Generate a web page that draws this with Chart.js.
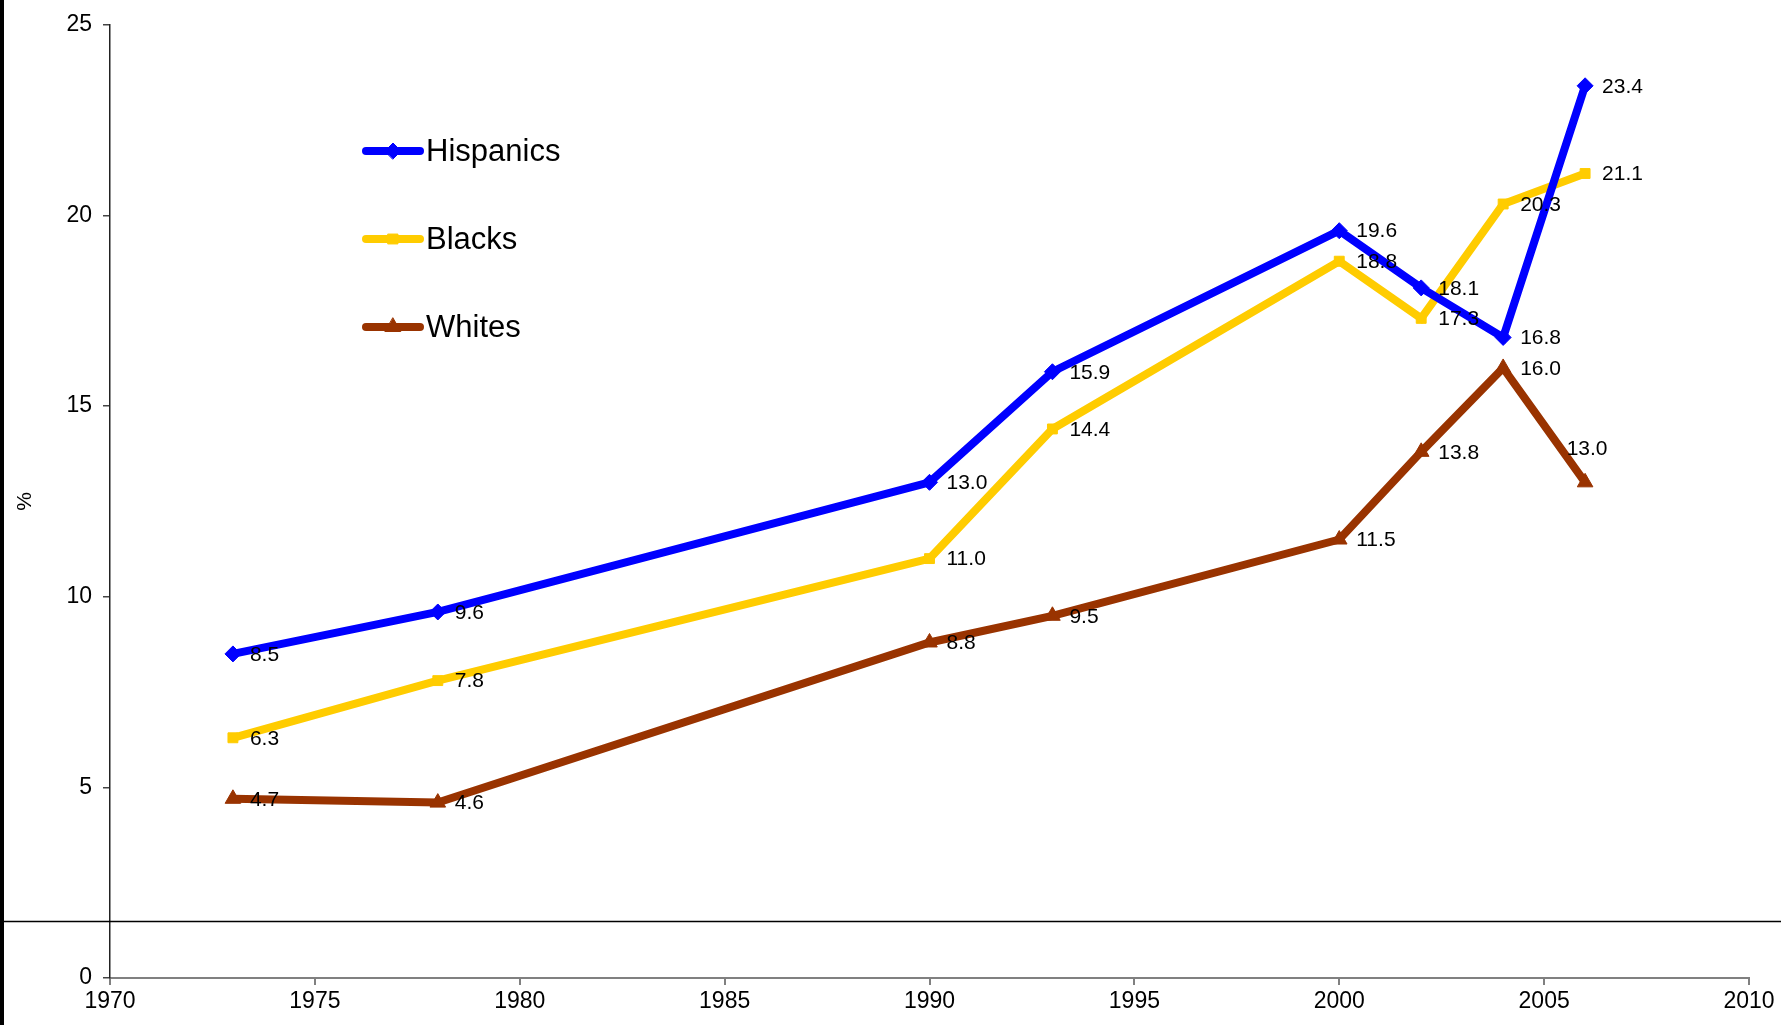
<!DOCTYPE html>
<html>
<head>
<meta charset="utf-8">
<script src="https://cdn.jsdelivr.net/npm/chart.js@4.4.1/dist/chart.umd.min.js"></script>
<style>
  html, body { margin: 0; padding: 0; background: #fff; }
  #wrap { position: relative; width: 1781px; height: 1025px; }
  canvas { display: block; }
</style>
</head>
<body>
<div id="wrap"><canvas id="c" width="1781" height="1025"></canvas></div>
<script>
// Survey years and percentages per group
const years     = [1973, 1978, 1990, 1993, 2000, 2002, 2004, 2006];
const hispanics = [8.5, 9.6, 13.0, 15.9, 19.6, 18.1, 16.8, 23.4];
const blacks    = [6.3, 7.8, 11.0, 14.4, 18.8, 17.3, 20.3, 21.1];
const whites    = [4.7, 4.6, 8.8, 9.5, 11.5, 13.8, 16.0, 13.0];
const yTicks    = [0, 5, 10, 15, 20, 25];
const xTicks    = [1970, 1975, 1980, 1985, 1990, 1995, 2000, 2005, 2010];

const pts = arr => years.map((y, i) => ({ x: y, y: arr[i] }));

const FONT = '"Liberation Sans", Arial, sans-serif';

// Value labels beside every point
const valueLabels = {
  id: 'valueLabels',
  afterDatasetsDraw(chart) {
    const ctx = chart.ctx;
    ctx.save();
    ctx.font = '21px ' + FONT;
    ctx.fillStyle = '#000';
    chart.data.datasets.forEach((ds, di) => {
      const meta = chart.getDatasetMeta(di);
      const above = ds.labelAbove || [];
      meta.data.forEach((el, i) => {
        const txt = ds.data[i].y.toFixed(1);
        ctx.textBaseline = 'middle';
        if (above.includes(i)) {
          ctx.textAlign = 'center';
          ctx.fillText(txt, el.x + 2, el.y - 33);
        } else {
          ctx.textAlign = 'left';
          ctx.fillText(txt, el.x + 17, el.y + 1);
        }
      });
    });
    ctx.restore();
  }
};

// Legend drawn inside the plot area, plus the frame strokes
const innerLegend = {
  id: 'innerLegend',
  afterDraw(chart) {
    const ctx = chart.ctx;
    ctx.save();
    // left edge bar
    ctx.fillStyle = '#000';
    ctx.fillRect(0, 0, 4, chart.height);
    // horizontal rule across the lower part
    const yRule = Math.round(chart.scales.y.getPixelForValue(1.49)) + 0.5;
    ctx.strokeStyle = '#000';
    ctx.lineWidth = 1.5;
    ctx.beginPath();
    ctx.moveTo(4, yRule);
    ctx.lineTo(chart.width, yRule);
    ctx.stroke();

    const x0 = 366, x1 = 420, tx = 426;
    const rows = [151, 239, 327];
    chart.data.datasets.forEach((ds, di) => {
      const y = rows[di];
      ctx.strokeStyle = ds.borderColor;
      ctx.lineWidth = 8;
      ctx.lineCap = 'round';
      ctx.beginPath();
      ctx.moveTo(x0, y);
      ctx.lineTo(x1, y);
      ctx.stroke();
      ctx.fillStyle = ds.borderColor;
      ctx.lineWidth = 1;
      Chart.helpers.drawPoint(ctx, {
        pointStyle: ds.pointStyle,
        radius: ds.pointRadius,
        rotation: 0,
        borderWidth: 1
      }, (x0 + x1) / 2, y);
      ctx.fillStyle = '#000';
      ctx.font = '31px ' + FONT;
      ctx.textAlign = 'left';
      ctx.textBaseline = 'middle';
      ctx.fillText(ds.label, tx, y + 1);
    });
    ctx.restore();
  }
};

const line = (label, data, color, style, r, extra) => Object.assign({
  label,
  data: pts(data),
  borderColor: color,
  backgroundColor: color,
  pointBackgroundColor: color,
  pointBorderColor: color,
  borderWidth: 8,
  pointStyle: style,
  pointRadius: r,
  pointBorderWidth: 1,
  tension: 0,
  fill: false
}, extra || {});

new Chart(document.getElementById('c'), {
  type: 'line',
  data: {
    datasets: [
      line('Hispanics', hispanics, '#0000FF', 'rectRot', 8),
      line('Blacks', blacks, '#FFCC00', 'rect', 7),
      line('Whites', whites, '#993300', 'triangle', 9, { labelAbove: [7] })
    ]
  },
  options: {
    responsive: false,
    animation: false,
    layout: { padding: { top: 18, right: 32, left: 0, bottom: 0 } },
    plugins: { legend: { display: false }, tooltip: { enabled: false } },
    scales: {
      x: {
        type: 'linear',
        min: 1970, max: 2010,
        afterBuildTicks: s => { s.ticks = xTicks.map(v => ({ value: v })); },
        afterFit: s => { s.height = 47; },
        grid: { drawOnChartArea: false, drawTicks: true, tickLength: 7, color: '#808080', lineWidth: 2 },
        border: { color: '#808080', width: 2 },
        ticks: { color: '#000', font: { family: FONT, size: 23 }, padding: 3, maxRotation: 0, autoSkip: false, callback: v => String(v) }
      },
      y: {
        min: 0, max: 25,
        afterBuildTicks: s => { s.ticks = yTicks.map(v => ({ value: v })); },
        afterFit: s => { s.width = 110; },
        grid: { drawOnChartArea: false, drawTicks: true, tickLength: 7, color: '#444', lineWidth: 1.5 },
        border: { color: '#222', width: 1.5 },
        title: { display: true, text: '%', color: '#000', font: { family: FONT, size: 21 }, padding: { top: 13, bottom: 0 } },
        ticks: { color: '#000', font: { family: FONT, size: 23 }, padding: 11 }
      }
    }
  },
  plugins: [valueLabels, innerLegend]
});
</script>
</body>
</html>
